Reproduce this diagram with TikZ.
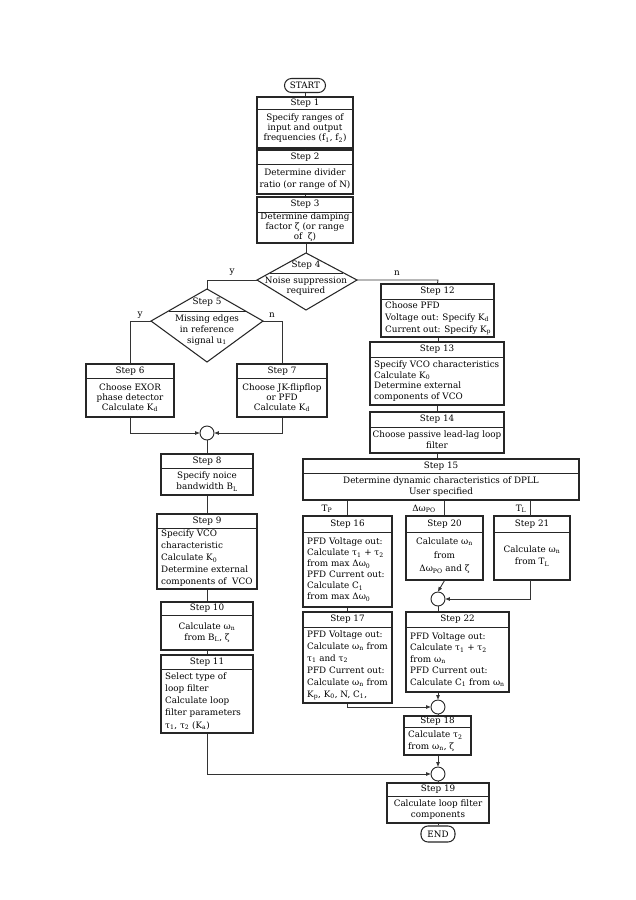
\documentclass[tikz,border=0pt]{standalone}
\usepackage{fontspec}
\setmainfont{DejaVu Serif}
\usetikzlibrary{arrows.meta}
\newcommand\sbx[1]{\textsubscript{#1}}
\newcommand\fs[1]{\fontsize{8.8}{#1}\selectfont}
\tikzset{
  boxst/.style={draw=black!85, line width=1.05pt, rectangle, inner sep=0pt, fill=white},
  hline/.style={draw=black!85, line width=0.9pt},
  txt/.style={inner sep=0pt, font=\fs{11}, text=black},
  conn/.style={draw=black!80, line width=0.9pt},
  arr/.style={conn, -{Triangle[length=4.5pt,width=3.5pt]}},
  junc/.style={circle, draw=black!85, line width=0.9pt, fill=white, minimum size=14pt, inner sep=0pt},
  term/.style={draw=black!85, line width=1.05pt, rounded corners=7pt, inner sep=0pt, fill=white},
  lbl/.style={inner sep=0pt, font=\fs{10}},
}
% centred body; optional arg = baselineskip
\newcommand\stepboxc[9][11]{%
  \node[boxst, minimum width={(#5-#3)*1pt}, minimum height={(#6-#4)*1pt}] (#2) at ({(#3+#5)/2},{(#4+#6)/2}) {};
  \draw[hline] ({#3},{#7}) -- ({#5},{#7});
  \node[txt] (#2h) at ({(#3+#5)/2},{(#4+#7)/2}) {#8};
  \node[txt, align=center, font=\fs{#1}] (#2b) at ({(#3+#5)/2},{(#7+#6)/2}) {#9};
}
% left-aligned body
\newcommand\stepboxl[9][11]{%
  \node[boxst, minimum width={(#5-#3)*1pt}, minimum height={(#6-#4)*1pt}] (#2) at ({(#3+#5)/2},{(#4+#6)/2}) {};
  \draw[hline] ({#3},{#7}) -- ({#5},{#7});
  \node[txt] (#2h) at ({(#3+#5)/2},{(#4+#7)/2}) {#8};
  \node[txt, align=left, anchor=west, font=\fs{#1}] (#2b) at ({#3+4},{(#7+#6)/2}) {#9};
}
\begin{document}
\begin{tikzpicture}[x=1pt,y=-1pt]
\useasboundingbox[fill=white] (0,0) rectangle (636,900);

% terminals
\node[term, minimum width=41pt, minimum height=14pt] (start) at (305,85.5) {};
\node[txt] at (start) {START};

% main column
\stepboxc[10]{s1}{257}{97}{353}{148}{109}{Step 1}{Specify ranges of\\input and output\\frequencies (f\sbx{1}, f\sbx{2})}
\stepboxc[12]{s2}{257}{150}{353}{194}{164}{Step 2}{Determine divider\\ratio (or range of N)}
\stepboxc[10]{s3}{257}{197}{353}{243}{212}{Step 3}{Determine damping\\factor ζ (or range\\of \ ζ)}

% Step 4 diamond
\coordinate (d4t) at (306,253);
\coordinate (d4l) at (257,280);
\coordinate (d4b) at (306,310);
\coordinate (d4r) at (357,280);
\draw[boxst] (d4t) -- (d4l) -- (d4b) -- (d4r) -- cycle;
\draw[hline] (270,273) -- (343,273);
\node[txt] (d4h) at (306,265.5) {Step 4};
\node[txt, align=center, font=\fs{10}] (d4x) at (306,286) {Noise suppression\\required};

% Step 5 diamond
\coordinate (d5t) at (207,289);
\coordinate (d5l) at (151,321);
\coordinate (d5b) at (207,362);
\coordinate (d5r) at (263,321);
\draw[boxst] (d5t) -- (d5l) -- (d5b) -- (d5r) -- cycle;
\draw[hline] (168.5,311) -- (245.5,311);
\node[txt] (d5h) at (207,302) {Step 5};
\node[txt, align=center] (d5x) at (207,330) {Missing edges\\in reference\\signal u\sbx{1}};

\stepboxc[10]{s6}{86}{364}{174}{417}{378}{Step 6}{Choose EXOR\\phase detector\\Calculate K\sbx{d}}
\stepboxc[10]{s7}{237}{364}{327}{417}{378}{Step 7}{Choose JK-flipflop\\or PFD\\Calculate K\sbx{d}}

\node[junc] (c1) at (207,433) {};

\stepboxc[11]{s8}{161}{454}{253}{495}{468}{Step 8}{Specify noice\\bandwidth B\sbx{L}}
\stepboxl[12]{s9}{157}{514}{257}{589}{528}{Step 9}{Specify VCO\\characteristic\\Calculate K\sbx{0}\\Determine external\\components of \ VCO}
\stepboxc[11]{s10}{161}{602}{253}{650}{615}{Step 10}{Calculate ω\sbx{n}\\from B\sbx{L}, ζ}
\stepboxl[12.2]{s11}{161}{655}{253}{733}{669}{Step 11}{Select type of\\loop filter\\Calculate loop\\filter parameters\\τ\sbx{1}, τ\sbx{2} (K\sbx{a})}

% right branch
\stepboxl[12.2]{s12}{381}{284}{494}{337}{299}{Step 12}{Choose PFD\\Voltage out: Specify K\sbx{d}\\Current out: Specify K\sbx{p}}
\stepboxl[10.4]{s13}{370}{342}{504}{405}{357}{Step 13}{Specify VCO characteristics\\Calculate K\sbx{0}\\Determine external\\components of VCO}
\stepboxc[11]{s14}{370}{412}{504}{453}{427}{Step 14}{Choose passive lead-lag loop\\filter}
\stepboxc[11]{s15}{303}{459}{579}{500}{473}{Step 15}{Determine dynamic characteristics of DPLL\\User specified}

\stepboxl[11]{s16}{303}{516}{392}{607}{532}{Step 16}{PFD Voltage out:\\Calculate τ\sbx{1} + τ\sbx{2}\\from max Δω\sbx{0}\\PFD Current out:\\Calculate C\sbx{1}\\from max Δω\sbx{0}}
\stepboxc[13.5]{s20}{406}{516}{483}{580}{532}{Step 20}{Calculate ω\sbx{n}\\from\\Δω\sbx{PO} and ζ}
\stepboxc[12]{s21}{494}{516}{570}{580}{532}{Step 21}{Calculate ω\sbx{n}\\from T\sbx{L}}

\node[junc] (c2) at (438,599) {};

\stepboxl[12]{s17}{303}{612}{392}{703}{627}{Step 17}{PFD Voltage out:\\Calculate ω\sbx{n} from\\τ\sbx{1} and τ\sbx{2}\\PFD Current out:\\Calculate ω\sbx{n} from\\K\sbx{p}, K\sbx{0}, N, C\sbx{1},}
\stepboxl[11.5]{s22}{406}{612}{509}{692}{627}{Step 22}{PFD Voltage out:\\Calculate τ\sbx{1} + τ\sbx{2}\\from ω\sbx{n}\\PFD Current out:\\Calculate C\sbx{1} from ω\sbx{n}}

\node[junc] (c4) at (438,707) {};

\stepboxl[11.5]{s18}{404}{716}{471}{755}{727}{Step 18}{Calculate τ\sbx{2}\\from ω\sbx{n}, ζ}

\node[junc] (c3) at (438,774) {};

\stepboxc[11.5]{s19}{387}{783}{489}{823}{796}{Step 19}{Calculate loop filter\\components}

\node[term, minimum width=34pt, minimum height=16pt] (end) at (438,834) {};
\node[txt] at (end) {END};

% connectors: main column
\draw[conn] (start.south) -- (s1.north);
\draw[conn] (s1.south) -- (s2.north);
\draw[conn] (s2.south) -- (s3.north);
\draw[conn] (s3.south -| d4t) -- (d4t);
\draw[conn] (d4l) -- (207,280) -- (d5t);
\draw[conn] (d4r) -- (438,280) -- (s12.north);
\node[lbl] at (232,272) {y};
\node[lbl] at (397,273) {n};

\draw[conn] (d5l) -- (s6.north |- d5l) -- (s6.north);
\draw[conn] (d5r) -- (s7.north |- d5r) -- (s7.north);
\node[lbl] at (140,315) {y};
\node[lbl] at (272,315) {n};

\draw[arr] (s6.south) -- (s6.south |- c1) -- (c1.west);
\draw[arr] (s7.south) -- (s7.south |- c1) -- (c1.east);
\draw[conn] (c1.south) -- (s8.north);
\draw[conn] (s8.south) -- (s9.north);
\draw[conn] (s9.south) -- (s10.north);
\draw[conn] (s10.south) -- (s11.north);
\draw[arr] (s11.south) -- (s11.south |- c3) -- (c3.west);

% right branch
\draw[conn] (s12.south -| 438,0) -- (s13.north -| 438,0);
\draw[conn] (s13.south) -- (s14.north);
\draw[conn] (s14.south) -- (s15.north -| s14.south);
\draw[conn] (s15.south -| s16.north) -- (s16.north);
\draw[conn] (s15.south -| s20.north) -- (s20.north);
\draw[conn] (s15.south -| 530,0) -- (530,516);
\node[lbl] at (327,509) {T\sbx{P}};
\node[lbl] at (424,509) {Δω\sbx{PO}};
\node[lbl] at (521,509) {T\sbx{L}};

\draw[conn] (s16.south) -- (s17.north);
\draw[arr] (s20.south) -- (c2.north);
\draw[arr] (530,580) -- (530,599) -- (c2.east);
\draw[conn] (c2.south) -- (c2.south |- s22.north);
\draw[arr] (s22.south -| c4) -- (c4.north);
\draw[arr] (s17.south) -- (s17.south |- c4) -- (c4.west);
\draw[conn] (c4.south) -- (c4.south |- s18.north);
\draw[arr] (s18.south -| c3) -- (c3.north);
\draw[conn] (c3.south) -- (c3.south |- s19.north);
\draw[conn] (s19.south -| end) -- (end.north);
\end{tikzpicture}
\end{document}
